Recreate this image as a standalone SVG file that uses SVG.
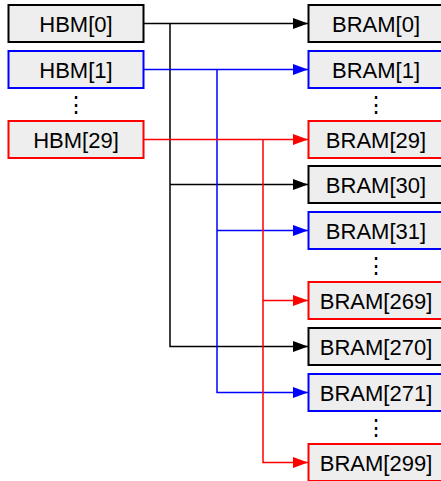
<svg xmlns="http://www.w3.org/2000/svg" width="441" height="481" viewBox="0 0 441 481">
<style>
.box{fill:#eeeeee;stroke-width:2}
.k{stroke:#000000}.b{stroke:#0000ff}.r{stroke:#ff0000}
text{font-family:"Liberation Sans",Arial,sans-serif;font-size:22px;fill:#000;text-anchor:middle}
.w{fill:none;stroke-width:1.5}
</style>
<defs>
<marker id="ak" markerUnits="userSpaceOnUse" markerWidth="16" markerHeight="12" refX="15" refY="5.5" orient="auto"><path d="M0,0 L15,5.5 L0,11 z" fill="#000000"/></marker>
<marker id="ab" markerUnits="userSpaceOnUse" markerWidth="16" markerHeight="12" refX="15" refY="5.5" orient="auto"><path d="M0,0 L15,5.5 L0,11 z" fill="#0000ff"/></marker>
<marker id="ar" markerUnits="userSpaceOnUse" markerWidth="16" markerHeight="12" refX="15" refY="5.5" orient="auto"><path d="M0,0 L15,5.5 L0,11 z" fill="#ff0000"/></marker>
</defs>
<g id="connectors">
<path class="w k" d="M143,23.5 H308" marker-end="url(#ak)"/>
<path class="w k" d="M170,23.5 V346.5 H308" marker-end="url(#ak)"/>
<path class="w k" d="M170,184.5 H308" marker-end="url(#ak)"/>
<path class="w b" d="M143,69.5 H308" marker-end="url(#ab)"/>
<path class="w b" d="M217,69.5 V392.5 H308" marker-end="url(#ab)"/>
<path class="w b" d="M217,230.5 H308" marker-end="url(#ab)"/>
<path class="w r" d="M143,139.5 H308" marker-end="url(#ar)"/>
<path class="w r" d="M263,139.5 V462.5 H308" marker-end="url(#ar)"/>
<path class="w r" d="M263,300.5 H308" marker-end="url(#ar)"/>
</g>
<g id="hbm0"><rect class="box k" x="8.5" y="5" width="135" height="37"/><text x="76" y="31.5">HBM[0]</text></g>
<g id="hbm1"><rect class="box b" x="8.5" y="51" width="135" height="37"/><text x="76" y="77.5">HBM[1]</text></g>
<g id="hbmdots"><text x="76" y="112">⋮</text></g>
<g id="hbm29"><rect class="box r" x="8.5" y="121" width="135" height="37"/><text x="76" y="147.5">HBM[29]</text></g>
<g id="bram0"><rect class="box k" x="308.5" y="5" width="135" height="37"/><text x="376" y="31.5">BRAM[0]</text></g>
<g id="bram1"><rect class="box b" x="308.5" y="51" width="135" height="37"/><text x="376" y="77.5">BRAM[1]</text></g>
<g id="bramdots1"><text x="376" y="112">⋮</text></g>
<g id="bram29"><rect class="box r" x="308.5" y="121" width="135" height="37"/><text x="376" y="147.5">BRAM[29]</text></g>
<g id="bram30"><rect class="box k" x="308.5" y="166" width="135" height="37"/><text x="376" y="192.5">BRAM[30]</text></g>
<g id="bram31"><rect class="box b" x="308.5" y="212" width="135" height="37"/><text x="376" y="238.5">BRAM[31]</text></g>
<g id="bramdots2"><text x="376" y="273">⋮</text></g>
<g id="bram269"><rect class="box r" x="308.5" y="282" width="135" height="37"/><text x="376" y="308.5">BRAM[269]</text></g>
<g id="bram270"><rect class="box k" x="308.5" y="328" width="135" height="37"/><text x="376" y="354.5">BRAM[270]</text></g>
<g id="bram271"><rect class="box b" x="308.5" y="374" width="135" height="37"/><text x="376" y="400.5">BRAM[271]</text></g>
<g id="bramdots3"><text x="376" y="435">⋮</text></g>
<g id="bram299"><rect class="box r" x="308.5" y="444" width="135" height="37"/><text x="376" y="470.5">BRAM[299]</text></g>
</svg>
